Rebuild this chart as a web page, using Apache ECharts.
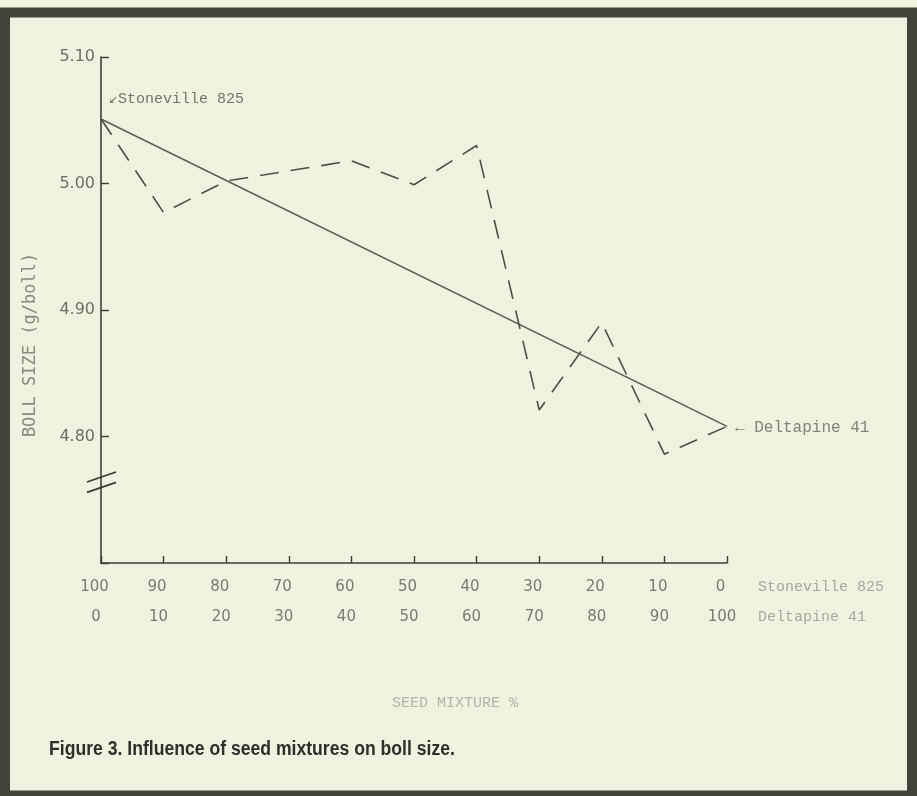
<!DOCTYPE html>
<html>
<head>
<meta charset="utf-8">
<script src="https://cdn.jsdelivr.net/npm/echarts@6/dist/echarts.min.js"></script>
<style>
  html, body { margin: 0; padding: 0; background: #eef1dc; }
  #chart { width: 917px; height: 796px; }
</style>
</head>
<body>
<div id="chart"></div>
<script>
// ---- data ----
const deltapinePct = [0, 10, 20, 30, 40, 50, 60, 70, 80, 90, 100];
const stonevillePct = [100, 90, 80, 70, 60, 50, 40, 30, 20, 10, 0];
const mixtureBollSize = [5.051, 4.977, 5.002, 5.010, 5.018, 4.999, 5.030, 4.821, 4.890, 4.786, 4.808];
const expectedX = [0, 100];
const expectedBollSize = [5.051, 4.808];
const yTickLabels = ['4.80', '4.90', '5.00', '5.10'];
const rowNames = ['Stoneville 825', 'Deltapine 41'];

const chart = echarts.init(document.getElementById('chart'), null, { renderer: 'canvas' });

const mixData = deltapinePct.map((x, i) => [x, mixtureBollSize[i]]);
const lineData = expectedX.map((x, i) => [x, expectedBollSize[i]]);

const monoFont = '"Liberation Mono", "DejaVu Sans Mono", monospace';
const numFont = '"DejaVu Sans", "Noto Sans", sans-serif';

const option = {
  backgroundColor: '#eff2de',
  animation: false,
  grid: { left: 101, right: 190, top: 57, bottom: 233 },
  xAxis: {
    type: 'value', min: 0, max: 100, interval: 10,
    axisLine: { lineStyle: { color: '#3c3c36', width: 1.6 } },
    axisTick: { inside: true, length: 7, lineStyle: { color: '#3c3c36', width: 1.4 } },
    splitLine: { show: false },
    axisLabel: {
      margin: 9,
      formatter: v => '{a|' + stonevillePct[deltapinePct.indexOf(v)] + '}\n{b|' + v + '}',
      rich: {
        a: { fontFamily: numFont, fontSize: 15, color: '#7a7a72', lineHeight: 30, padding: [0, 13, 0, 0] },
        b: { fontFamily: numFont, fontSize: 15, color: '#7a7a72', lineHeight: 30, padding: [0, 10, 0, 0] }
      }
    }
  },
  yAxis: {
    type: 'value', min: 4.7, max: 5.1, interval: 0.1,
    axisLine: { lineStyle: { color: '#3c3c36', width: 1.6 } },
    axisTick: { inside: true, length: 8, lineStyle: { color: '#3c3c36', width: 1.4 } },
    splitLine: { show: false },
    axisLabel: {
      margin: 6, fontFamily: numFont, fontSize: 16, color: '#6e6e66',
      formatter: v => { const s = v.toFixed(2); return yTickLabels.indexOf(s) >= 0 ? s : ''; }
    }
  },
  series: [
    {
      type: 'line', data: lineData, symbol: 'none', silent: true,
      lineStyle: { color: '#5c5c55', width: 1.5 }
    },
    {
      type: 'line', data: mixData, symbol: 'none', silent: true,
      lineStyle: { color: '#4e4e48', width: 1.6, type: [19, 12] }
    },
    {
      type: 'scatter', symbolSize: 0, silent: true,
      data: [
        { value: lineData[0], label: { show: true, position: 'right', distance: 8, offset: [0, -20],
          formatter: '\u2199Stoneville 825', fontFamily: monoFont, fontSize: 15, color: '#55554e' } },
        { value: lineData[1], label: { show: true, position: 'right', distance: 8, offset: [0, 1],
          formatter: '\u2190 Deltapine 41', fontFamily: monoFont, fontSize: 16, color: '#66665e' } }
      ]
    }
  ]
};
chart.setOption(option);

// decorations positioned via the axes
const ax = chart.convertToPixel({ gridIndex: 0 }, [0, 4.768]);
const ax2 = chart.convertToPixel({ gridIndex: 0 }, [0, 4.7598]);
const right = chart.convertToPixel({ gridIndex: 0 }, [100, 4.7]);

chart.setOption({
  graphic: [
    { type: 'rect', shape: { x: 5, y: 12.5, width: 907, height: 783 },
      style: { fill: 'none', stroke: '#45443b', lineWidth: 10 }, z: 100 },
    { type: 'line', shape: { x1: ax[0] - 14, y1: ax[1] + 5, x2: ax[0] + 15, y2: ax[1] - 5 },
      style: { stroke: '#3c3c36', lineWidth: 1.8 }, z: 50 },
    { type: 'line', shape: { x1: ax2[0] - 14, y1: ax2[1] + 5, x2: ax2[0] + 15, y2: ax2[1] - 5 },
      style: { stroke: '#3c3c36', lineWidth: 1.8 }, z: 50 },
    { type: 'text', x: right[0] + 31, y: right[1] + 24,
      style: { text: rowNames[0], fontFamily: monoFont, fontSize: 15, fill: '#a8a8a0', verticalAlign: 'middle' } },
    { type: 'text', x: right[0] + 31, y: right[1] + 54,
      style: { text: rowNames[1], fontFamily: monoFont, fontSize: 15, fill: '#a8a8a0', verticalAlign: 'middle' } },
    { type: 'text', x: 31, y: 345, rotation: Math.PI / 2,
      style: { text: 'BOLL SIZE (g/boll)', fontFamily: '"DejaVu Sans Mono", monospace', fontSize: 17,
        fill: '#8a8a82', align: 'center', verticalAlign: 'middle' } },
    { type: 'text', x: 455, y: 703,
      style: { text: 'SEED MIXTURE %', fontFamily: monoFont, fontSize: 15, fill: '#b4b4aa',
        align: 'center', verticalAlign: 'middle' } },
    { type: 'text', x: 49, y: 749, scaleX: 0.88,
      style: { text: 'Figure 3. Influence of seed mixtures on boll size.',
        fontFamily: '"Liberation Sans", Arial, sans-serif', fontWeight: 'bold',
        fontSize: 20, fill: '#2f2f2a', verticalAlign: 'middle' } }
  ]
});
</script>
</body>
</html>
